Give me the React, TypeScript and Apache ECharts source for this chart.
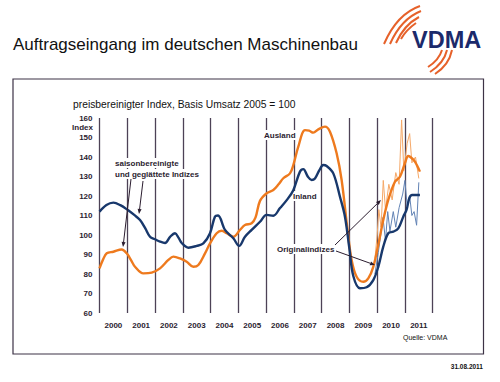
import React, { useEffect, useRef } from "react";
import * as echarts from "echarts";

const FONT = "'Liberation Sans', Arial, sans-serif";

const yearLabels = ["2000", "2001", "2002", "2003", "2004", "2005", "2006", "2007", "2008", "2009", "2010", "2011"];

// smoothed (saisonbereinigt, geglättet) – [year, index]
const inlandSmoothed: [number, number][] = [
  [2000.0, 112], [2000.25, 115.4], [2000.5, 116.6], [2000.75, 115.3], [2001.02, 112.8], [2001.25, 110.3],
  [2001.46, 107.7], [2001.65, 103.4], [2001.82, 99.1], [2002.0, 97.8], [2002.18, 96.6], [2002.36, 95.9],
  [2002.55, 99.2], [2002.72, 100.9], [2002.85, 98.5], [2002.96, 95.9], [2003.2, 93.5], [2003.5, 94.4],
  [2003.74, 95.7], [2003.98, 100.9], [2004.16, 109.5], [2004.27, 110], [2004.52, 102.6], [2004.82, 98.3],
  [2005.03, 94.4], [2005.24, 99.1], [2005.48, 102.6], [2005.78, 106.8], [2006.02, 110.3], [2006.26, 109.9],
  [2006.5, 113.8], [2006.75, 118], [2006.98, 123], [2007.22, 132.5], [2007.34, 133.8], [2007.5, 130],
  [2007.64, 128.2], [2007.76, 129], [2007.92, 133.3], [2008.06, 135.9], [2008.18, 135.4], [2008.42, 131.6],
  [2008.66, 119.6], [2008.84, 109.4], [2009.0, 93], [2009.14, 79], [2009.38, 72.7], [2009.62, 73.2],
  [2009.86, 76.9], [2010.04, 83.7], [2010.22, 94], [2010.4, 100.9], [2010.58, 101.7], [2010.76, 103.4],
  [2010.94, 109.4], [2011.06, 113], [2011.16, 119], [2011.26, 120.5], [2011.54, 120.5],
];

const auslandSmoothed: [number, number][] = [
  [2000.0, 82.9], [2000.13, 87.5], [2000.26, 90.6], [2000.5, 91.4], [2000.8, 92.6], [2000.98, 90.6],
  [2001.14, 87], [2001.28, 83.7], [2001.58, 80.3], [2001.88, 80.7], [2002.18, 82.9], [2002.48, 87.2],
  [2002.66, 88.9], [2002.9, 88], [2003.14, 86.3], [2003.38, 83.7], [2003.56, 84.6], [2003.8, 90.6],
  [2003.98, 95.7], [2004.22, 100.9], [2004.4, 102.2], [2004.58, 100.9], [2004.82, 99.1], [2005.06, 102.6],
  [2005.24, 105.1], [2005.48, 106], [2005.62, 109], [2005.78, 117.5], [2006.02, 121.4], [2006.26, 123.1],
  [2006.45, 126], [2006.62, 129.1], [2006.86, 131.6], [2006.98, 135.9], [2007.16, 145.3], [2007.4, 153.8],
  [2007.55, 153.5], [2007.7, 152.5], [2007.88, 154.2], [2008.12, 155.6], [2008.3, 153], [2008.54, 141.9],
  [2008.72, 128.2], [2008.93, 103], [2009.08, 87.2], [2009.26, 78.6], [2009.5, 76], [2009.68, 77.8],
  [2009.86, 83.7], [2010.04, 95], [2010.22, 107.7], [2010.4, 118], [2010.64, 127.3], [2010.82, 129.9],
  [2011.0, 136.8], [2011.12, 140.5], [2011.24, 139.5], [2011.36, 137.6], [2011.54, 132.5],
];

// Originalindizes – [year, index]
const auslandOriginal: [number, number][] = [
  [2009.92, 88], [2010.0, 100], [2010.06, 113], [2010.14, 104], [2010.22, 128], [2010.3, 113],
  [2010.42, 126], [2010.54, 118], [2010.67, 132], [2010.79, 126], [2010.88, 159], [2010.96, 133],
  [2011.08, 147], [2011.17, 152], [2011.25, 137], [2011.38, 140], [2011.5, 129],
];

const inlandOriginal: [number, number][] = [
  [2009.92, 80], [2010.04, 91], [2010.12, 99], [2010.21, 109], [2010.3, 97], [2010.38, 112],
  [2010.46, 102], [2010.58, 112], [2010.67, 104], [2010.79, 114], [2010.92, 121], [2011.0, 128],
  [2011.08, 115], [2011.17, 120], [2011.25, 110], [2011.33, 112], [2011.42, 105], [2011.5, 127],
];

const ORANGE = "#EE7A1E";
const BLUE = "#18386C";
const DARK = "#2b1d2f";

function arrow(x1: number, y1: number, x2: number, y2: number) {
  const a = Math.atan2(y2 - y1, x2 - x1);
  const L = 5, W = 2;
  const bx = x2 - L * Math.cos(a), by = y2 - L * Math.sin(a);
  const px = -Math.sin(a) * W, py = Math.cos(a) * W;
  return [
    { type: "line", z: 110, shape: { x1, y1, x2: bx, y2: by }, style: { stroke: DARK, lineWidth: 1 } },
    {
      type: "polygon", z: 110,
      shape: { points: [[x2, y2], [bx + px, by + py], [bx - px, by - py]] },
      style: { fill: DARK },
    },
  ];
}

function label(text: string, x: number, y: number, opts: any = {}) {
  return {
    type: "text", z: 1,
    style: {
      text, x, y,
      fill: DARK,
      fontFamily: FONT,
      fontSize: 8,
      fontWeight: "bold",
      verticalAlign: "middle",
      align: "left",
      backgroundColor: "#fff",
      padding: [1, 1],
      ...opts,
    },
  };
}

function stroke(x1: number, y1: number, cpx1: number, cpy1: number, x2: number, y2: number) {
  return {
    type: "bezierCurve",
    shape: { x1, y1, cpx1, cpy1, x2, y2 },
    style: { stroke: "#E6612A", lineWidth: 2, fill: null },
  };
}

export default function App() {
  const ref = useRef<HTMLDivElement>(null);
  useEffect(() => {
    if (!ref.current) return;
    const chart = echarts.init(ref.current, undefined, { renderer: "svg" });
    const option: any = {
      animation: false,
      backgroundColor: "#fff",
      textStyle: { fontFamily: FONT },
      grid: { left: 99.5, right: 67.3, top: 118, bottom: 69 },
      xAxis: [
        {
          type: "value", min: 2000, max: 2012, interval: 1,
          axisLine: { show: false }, axisTick: { show: false }, axisLabel: { show: false },
          splitLine: { show: true, lineStyle: { color: "#4d4256", width: 1.3 } },
        },
        {
          type: "category", data: yearLabels, position: "bottom", boundaryGap: true,
          axisLine: { show: false }, axisTick: { show: false }, splitLine: { show: false },
          axisLabel: { fontSize: 8, fontWeight: "bold", color: DARK, margin: 8, fontFamily: FONT },
        },
      ],
      yAxis: {
        type: "value", min: 60, max: 160, interval: 10,
        axisLine: { show: false }, axisTick: { show: false }, splitLine: { show: false },
        axisLabel: { fontSize: 8, fontWeight: "bold", color: DARK, margin: 7, fontFamily: FONT },
      },
      series: [
        {
          name: "Ausland Original", type: "line", data: auslandOriginal, xAxisIndex: 0,
          showSymbol: false, lineStyle: { color: "#F5A868", width: 1 }, z: 3,
        },
        {
          name: "Inland Original", type: "line", data: inlandOriginal, xAxisIndex: 0,
          showSymbol: false, lineStyle: { color: "#6283b5", width: 1 }, z: 3,
        },
        {
          name: "Ausland", type: "line", data: auslandSmoothed, xAxisIndex: 0, smooth: 0.35,
          showSymbol: false, lineStyle: { color: ORANGE, width: 2.4 }, z: 4,
        },
        {
          name: "Inland", type: "line", data: inlandSmoothed, xAxisIndex: 0, smooth: 0.35,
          showSymbol: false, lineStyle: { color: BLUE, width: 2.4 }, z: 5,
        },
      ],
      graphic: [
        {
          type: "rect", z: 0,
          shape: { x: 13, y: 79, width: 470.5, height: 275 },
          style: { fill: null, stroke: "#3d3346", lineWidth: 1.2 },
        },
        {
          type: "text", z: 100,
          style: {
            text: "Auftragseingang im deutschen Maschinenbau", x: 13, y: 44,
            fill: "#111", fontFamily: FONT, fontSize: 17, verticalAlign: "middle",
          },
        },
        {
          type: "text", z: 100,
          style: {
            text: "VDMA", x: 412, y: 40, fill: "#1b2a6b",
            fontFamily: FONT, fontSize: 23.5, fontWeight: "bold", verticalAlign: "middle",
          },
        },
        stroke(420, 6, 397, 14, 384, 44),
        stroke(421, 11, 401, 19, 390, 44),
        stroke(419, 17, 404, 25, 396, 43),
        stroke(416, 23, 406, 30, 401, 39),
        stroke(447, 50, 444, 63, 430, 72),
        stroke(442, 50, 439, 60, 428, 67),
        stroke(452, 50, 449, 65, 435, 74),
        {
          type: "text", z: 100,
          style: {
            text: "preisbereinigter Index, Basis Umsatz 2005 = 100", x: 73, y: 104,
            fill: "#111", fontFamily: FONT, fontSize: 10.3, verticalAlign: "middle",
          },
        },
        label("Index", 93, 127, { align: "right", backgroundColor: null, padding: 0 }),
        label("saisonbereinigte", 114, 163),
        label("und geglättete Indizes", 114, 174),
        label("Ausland", 263, 135),
        label("Inland", 292, 196),
        label("Originalindizes", 276, 249),
        ...arrow(131, 179, 123, 247),
        ...arrow(143, 181, 139, 214),
        ...arrow(335, 245, 381, 200),
        ...arrow(336, 251, 375, 265),
        {
          type: "text", z: 100,
          style: {
            text: "Quelle: VDMA", x: 403, y: 337, fill: "#111",
            fontFamily: FONT, fontSize: 7, verticalAlign: "middle",
          },
        },
        {
          type: "text", z: 100,
          style: {
            text: "31.08.2011", x: 483, y: 366, fill: "#111", align: "right",
            fontFamily: FONT, fontSize: 6.5, fontWeight: "bold", verticalAlign: "middle",
          },
        },
      ],
    };
    chart.setOption(option);
    return () => chart.dispose();
  }, []);
  return (
    <div
      ref={ref}
      style={{ position: "absolute", left: 0, top: 0, width: 500, height: 382, background: "#fff" }}
    />
  );
}
